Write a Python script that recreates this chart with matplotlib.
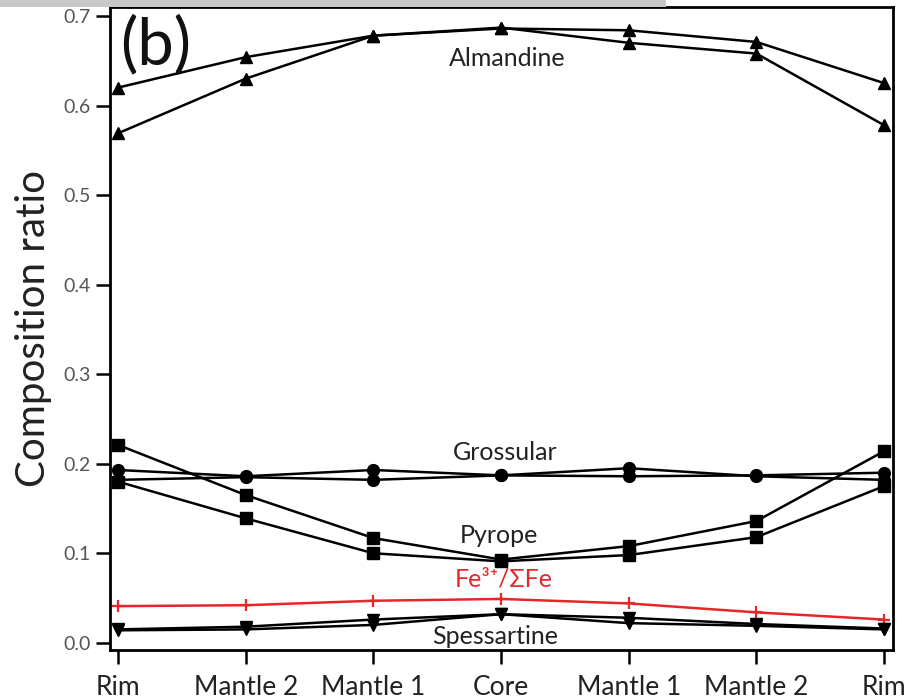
import matplotlib
matplotlib.use("Agg")
import matplotlib.pyplot as plt
from matplotlib.patches import Rectangle

positions = ["Rim", "Mantle 2", "Mantle 1", "Core", "Mantle 1", "Mantle 2", "Rim"]
x = list(range(len(positions)))

almandine_a = [0.620, 0.654, 0.678, 0.686, 0.684, 0.671, 0.625]
almandine_b = [0.569, 0.630, 0.678, 0.687, 0.670, 0.658, 0.578]
grossular_a = [0.193, 0.186, 0.193, 0.187, 0.195, 0.186, 0.182]
grossular_b = [0.182, 0.185, 0.182, 0.187, 0.186, 0.187, 0.190]
pyrope_a = [0.221, 0.165, 0.117, 0.093, 0.108, 0.136, 0.214]
pyrope_b = [0.180, 0.139, 0.100, 0.091, 0.098, 0.118, 0.175]
fe3_ratio = [0.041, 0.042, 0.047, 0.049, 0.044, 0.034, 0.026]
spessartine_a = [0.015, 0.018, 0.026, 0.032, 0.028, 0.021, 0.016]
spessartine_b = [0.014, 0.015, 0.020, 0.032, 0.022, 0.019, 0.015]

yticks = [0.0, 0.1, 0.2, 0.3, 0.4, 0.5, 0.6, 0.7]

plt.rcParams['font.family'] = ['Lato', 'DejaVu Sans']

fig = plt.figure(figsize=(9.09, 6.99), dpi=100)
fig.patches.append(Rectangle((0, 1 - 7/699), 666/909, 7/699, transform=fig.transFigure,
                             facecolor='#c8c8ca', edgecolor='none'))
ax = fig.add_axes([110/909, 1 - 650/699, (893 - 110)/909, (650 - 7)/699])

lkw = dict(color='black', lw=1.8, ms=8.5)
for s in (almandine_a, almandine_b):
    ax.plot(x, s, marker='^', **lkw)
for s in (grossular_a, grossular_b):
    ax.plot(x, s, marker='o', **lkw)
for s in (pyrope_a, pyrope_b):
    ax.plot(x, s, marker='s', **lkw)
ax.plot(x, fe3_ratio, marker='+', color='#e8262a', lw=1.8, ms=9, mew=1.6)
for s in (spessartine_a, spessartine_b):
    ax.plot(x, s, marker='v', **lkw)

ax.set_xlim(-0.063, 6.07)
ax.set_ylim(-0.008, 0.710)
ax.set_xticks(x)
ax.set_xticklabels(positions, fontsize=19, color='#222222')
ax.set_yticks(yticks)
ax.set_yticklabels([f"{v:.1f}" for v in yticks], fontsize=14, color='#555555')
ax.tick_params(axis='both', direction='out', length=10, width=1.8)
ax.tick_params(axis='x', pad=8)
ax.tick_params(axis='y', pad=4)
for sp in ax.spines.values():
    sp.set_linewidth(2)
ax.set_ylabel("Composition ratio", fontsize=29, labelpad=8, color='#222222')

tkw = dict(fontsize=18, ha='center', va='center', color='#222222')
ax.text(3.05, 0.652, "Almandine", **tkw)
ax.text(3.03, 0.213, "Grossular", **tkw)
ax.text(2.98, 0.120, "Pyrope", **tkw)
ax.text(3.02, 0.071, "Fe³⁺/ΣFe", fontsize=18, ha='center', va='center', color='#e8262a')
ax.text(2.95, 0.007, "Spessartine", **tkw)
ax.text(0.02, 0.668, "(b)", fontsize=47, ha='left', va='center', color='#111111')

fig.savefig("out.png", dpi=100)
